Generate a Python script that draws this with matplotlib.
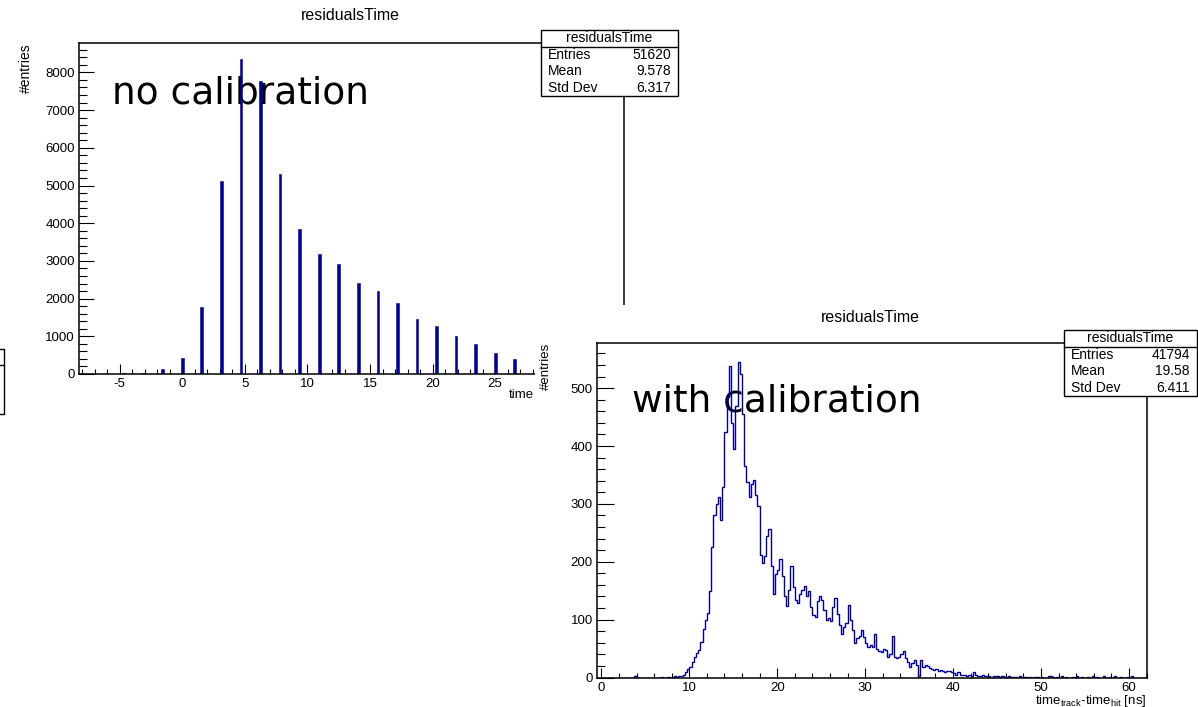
import numpy as np
import matplotlib
matplotlib.use("Agg")
import matplotlib.pyplot as plt
from matplotlib.ticker import MultipleLocator
from matplotlib.patches import Rectangle
from matplotlib.lines import Line2D

plt.rcParams['font.family'] = 'Liberation Sans'
plt.rcParams['axes.unicode_minus'] = False
plt.rcParams['mathtext.fontset'] = 'custom'
plt.rcParams['mathtext.rm'] = 'Liberation Sans'
plt.rcParams['mathtext.it'] = 'Liberation Sans:italic'

# --- no calibration: quantised time residuals (1.5625 ns steps) ---
nocal_t = [-4.69, -3.13, -1.56, 0.0, 1.56, 3.13, 4.69, 6.25, 7.81, 9.38, 10.94,
           12.5, 14.06, 15.63, 17.19, 18.75, 20.31, 21.88, 23.44, 25.0, 26.56]
nocal_n = [35, 18, 124, 433, 1777, 5128, 8347, 7772, 5297, 3846, 3183,
           2909, 2405, 2202, 1874, 1467, 1273, 1000, 796, 565, 398]
nocal_stats = [("Entries", "51620"), ("Mean", "9.578"), ("Std Dev", "6.317")]

# --- with calibration: 0.25 ns bins from 0 to 62 ns ---
cal_width = 0.25
cal_low = [0, 0, 0, 0,   0, 0, 0, 0,   0, 0, 0, 0,   0, 0, 0, 2,
           0, 0, 0, 0,   0, 0, 0, 0,   0, 0, 0, 1,   0, 0, 1, 0,
           1, 2, 1, 2]
cal_main = [
    3, 5, 9, 14,          # 9
    19, 26, 35, 42,       # 10
    48, 62, 84, 100,      # 11
    112, 150, 225, 280,   # 12
    300, 312, 272, 330,   # 13
    425, 485, 538, 440,   # 14
    395, 470, 546, 524,   # 15
    455, 365, 338, 312,   # 16
    335, 342, 315, 296,   # 17
    212, 198, 210, 244,   # 18
    256, 192, 145, 178,   # 19
    186, 205, 176, 140,   # 20
    124, 152, 192, 157,   # 21
    134, 128, 145, 152,   # 22
    158, 140, 150, 122,   # 23
    108, 104, 132, 140,   # 24
    134, 116, 99, 103,    # 25
    98, 122, 137, 110,    # 26
    90, 76, 88, 94,       # 27
    125, 100, 82, 60,     # 28
    68, 72, 82, 70,       # 29
    60, 53, 56, 52,       # 30
    76, 50, 46, 44,       # 31
    50, 47, 36, 40,       # 32
    71, 36, 33, 35,       # 33
    40, 45, 33, 27,       # 34
    19, 25, 30, 22,       # 35
    3, 30, 19, 22,        # 36
    20, 17, 15, 13,       # 37
    14, 12, 13, 11,       # 38
    10, 12, 12, 9,        # 39
    7, 5, 9, 5,           # 40
    4, 5, 3, 4,           # 41
    3, 9, 4, 3,           # 42
    2, 4, 2, 3,           # 43
    2, 1, 2, 3,           # 44
]
cal_tail = [
    2, 1, 2, 1,   1, 3, 1, 1,   1, 0, 2, 1,   1, 1, 0, 1,   0, 1, 1, 0,
    1, 0, 0, 2,   3, 1, 0, 1,   0, 2, 0, 1,   0, 0, 1, 0,   2, 0, 1, 0,
    0, 1, 0, 2,   0, 1, 0, 0,   2, 0, 0, 1,   0, 2, 0, 0,   1, 0, 0, 1,
    0, 2, 0, 0,   0, 0, 0, 0,
]
cal_n = np.array(cal_low + cal_main + cal_tail)
cal_edges = np.arange(len(cal_n) + 1) * cal_width
cal_stats = [("Entries", "41794"), ("Mean", "19.58"), ("Std Dev", "6.411")]

HIST = "#000099"
W, H = 1198, 707


def fx(px):
    return px / W


def fy(py):
    return 1 - py / H


def box(l, t, r, b):
    return [fx(l), fy(b), (r - l) / W, (b - t) / H]


def style_axes(ax, xmaj, xmin, ymaj, ymin, ylen, xlen):
    for s in ax.spines.values():
        s.set_linewidth(1.1)
    ax.xaxis.set_major_locator(MultipleLocator(xmaj))
    ax.xaxis.set_minor_locator(MultipleLocator(xmin))
    ax.yaxis.set_major_locator(MultipleLocator(ymaj))
    ax.yaxis.set_minor_locator(MultipleLocator(ymin))
    ax.tick_params(which='both', direction='in', top=False, right=False,
                   width=0.8, labelsize=9.5)
    ax.tick_params(axis='y', which='major', length=ylen, pad=3)
    ax.tick_params(axis='y', which='minor', length=ylen / 2)
    ax.tick_params(axis='x', which='major', length=xlen, pad=3)
    ax.tick_params(axis='x', which='minor', length=xlen / 2)


def stats_box(l, t, r, b, rows, z):
    fig.add_artist(Rectangle((fx(l), fy(b)), (r - l) / W, (b - t) / H,
                             transform=fig.transFigure, facecolor='white',
                             edgecolor='black', linewidth=1.0, zorder=z))
    row_h = (b - t) / 4
    fig.add_artist(Line2D([fx(l), fx(r)], [fy(t + row_h), fy(t + row_h)],
                          transform=fig.transFigure, color='black', lw=1.0, zorder=z))
    fig.text(fx((l + r) / 2), fy(t + row_h / 2), "residualsTime", ha='center',
             va='center', fontsize=10, zorder=z + 0.5)
    for i, (lab, val) in enumerate(rows):
        yc = fy(t + row_h * (i + 1.5))
        fig.text(fx(l + 7), yc, lab, ha='left', va='center', fontsize=10, zorder=z + 0.5)
        fig.text(fx(r - 7), yc, val, ha='right', va='center', fontsize=10, zorder=z + 0.5)


fig = plt.figure(figsize=(W / 100, H / 100), dpi=100)

# ---------------- plot 1 (no calibration) ----------------
ax1 = fig.add_axes(box(79, 43, 624, 374))
ax1.set_zorder(1)
ax1.bar(nocal_t, nocal_n, width=0.22, color=HIST, edgecolor=HIST, linewidth=0.4, zorder=2)
ax1.set_xlim(-8.26, 35.3)
ax1.set_ylim(0, 8780)
style_axes(ax1, 5, 1, 1000, 200, 10.8, 7.2)
ax1.text(fx(112), fy(103), "no calibration", transform=fig.transFigure,
         family='DejaVu Sans', fontsize=27, va='baseline', ha='left', zorder=1, clip_on=False)

fig.text(fx(350), fy(16), "residualsTime", ha='center', va='center', fontsize=11.5)
fig.text(fx(26), fy(43), "#entries", rotation=90, ha='center', va='top', fontsize=10)
fig.text(fx(534), fy(395), "time", ha='right', va='center', fontsize=9.5)

stats_box(541, 30, 678, 96, nocal_stats, 3)

# fragment of another stats box at the left edge
fig.add_artist(Line2D([fx(0), fx(4.3), fx(4.3), fx(0)], [fy(349), fy(349), fy(414), fy(414)],
                      transform=fig.transFigure, color='black', lw=1.0))
fig.add_artist(Line2D([fx(0), fx(4.3)], [fy(365), fy(365)],
                      transform=fig.transFigure, color='black', lw=1.0))

# white background of the second pasted plot
fig.add_artist(Rectangle((fx(535), 0), 1 - fx(535), fy(305), transform=fig.transFigure,
                         facecolor='white', edgecolor='none', zorder=2))

# ---------------- plot 2 (with calibration) ----------------
ax2 = fig.add_axes(box(597, 343, 1146.5, 677.5))
ax2.set_zorder(4)
ax2.stairs(cal_n, cal_edges, color=HIST, linewidth=1.0, zorder=2)
ax2.set_xlim(-0.5, 62.0)
ax2.set_ylim(0, 578)
style_axes(ax2, 10, 2, 100, 20, 11.9, 7.2)
ax2.text(fx(632), fy(411), "with calibration", transform=fig.transFigure,
         family='DejaVu Sans', fontsize=27, va='baseline', ha='left', zorder=1, clip_on=False)

fig.text(fx(870), fy(318), "residualsTime", ha='center', va='center', fontsize=11.5, zorder=6)
fig.text(fx(546), fy(343), "#entries", rotation=90, ha='center', va='top', fontsize=9.5, zorder=6)
fig.text(fx(1146), fy(701), r"time$_{\mathrm{track}}$-time$_{\mathrm{hit}}$ [ns]",
         ha='right', va='center', fontsize=9.5, zorder=6)

stats_box(1064, 330, 1197, 396, cal_stats, 7)

fig.savefig("out.png", dpi=100)
